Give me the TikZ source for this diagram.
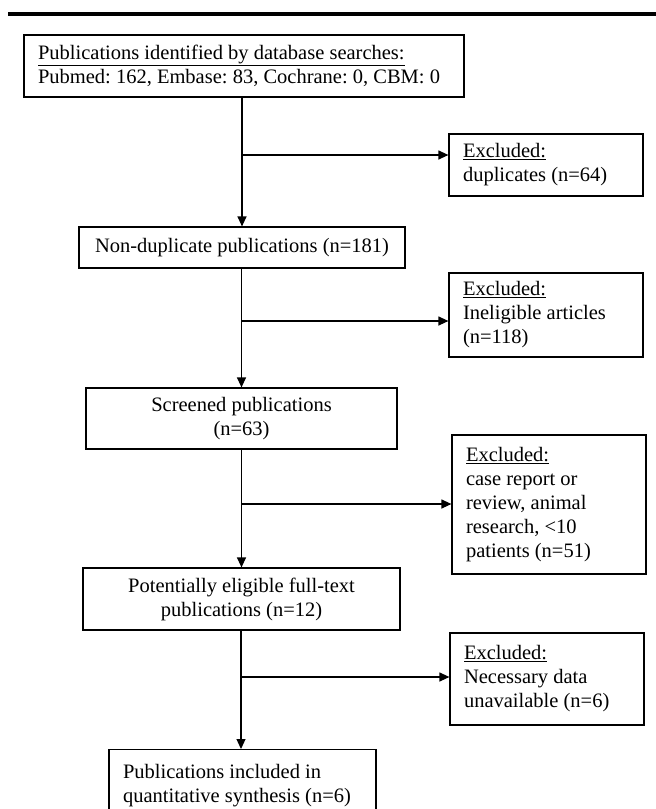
\documentclass[tikz,border=0pt]{standalone}
\usepackage{fontspec}
\setmainfont{Liberation Serif}
\usepackage{tikz}
\usetikzlibrary{arrows.meta}

\newcommand{\flowfont}{\fontsize{20.5}{24}\selectfont\frenchspacing}

\tikzset{
  flowbox/.style={draw, line width=1.2pt, inner xsep=14pt, inner ysep=0pt, font=\flowfont,
    execute at begin node={\spaceskip=0pt\xspaceskip=0pt}},
  exclbox/.style={flowbox, text width=166pt, align=left},
  flowarr/.style={-{Triangle[length=10pt,width=9pt]}, line width=1.2pt},
}

\begin{document}
\begin{tikzpicture}[x=1pt, y=-1pt]
\useasboundingbox (0,0) rectangle (656,809);
\clip (0,0) rectangle (656,809);

% Rule
\draw[line width=3.5pt] (8,14) -- (656,14);

% Main column
\node[flowbox, text width=412pt, align=left, minimum height=62pt] (search) at (244,66)
  {\underline{Publications identified by database searches:}\\
   Pubmed: 162, Embase: 83, Cochrane: 0, CBM: 0};
\node[flowbox, minimum width=326pt, minimum height=41pt] (nondup) at (242,247.5)
  {Non-duplicate publications (n=181)};
\node[flowbox, align=center, minimum width=311pt, minimum height=61pt] (screened) at (241.5,418.5)
  {Screened publications\\(n=63)};
\node[flowbox, align=center, minimum width=317pt, minimum height=62pt] (eligible) at (241.5,599)
  {Potentially eligible full-text\\publications (n=12)};
\node[flowbox, text width=239pt, align=left, minimum height=72pt, anchor=north] (included) at (242.5,749)
  {Publications included in\\quantitative synthesis (n=6)};

% Exclusions
\node[exclbox, minimum height=62pt] (dup) at (546,165)
  {\underline{Excluded:}\\duplicates (n=64)};
\node[exclbox, minimum height=84pt] (inelig) at (546,315)
  {\underline{Excluded:}\\Ineligible articles\\(n=118)};
\node[exclbox, minimum height=139pt] (casereport) at (549,504.5)
  {\underline{Excluded:}\\case report or\\review, animal\\research, <10\\patients (n=51)};
\node[exclbox, minimum height=92pt] (nodata) at (547,679)
  {\underline{Excluded:}\\Necessary data\\unavailable (n=6)};

% Junctions
\coordinate (j1) at (241,155);
\coordinate (j2) at (241,321);
\coordinate (j3) at (241,504);
\coordinate (j4) at (241,677);

% Arrows down
\draw[flowarr] (search.south -| nondup.north) -- (nondup.north);
\draw[flowarr] (nondup.south -| screened.north) -- (screened.north);
\draw[flowarr] (screened.south -| eligible.north) -- (eligible.north);
\draw[flowarr] (eligible.south -| j4) -- (included.north -| j4);

% Arrows right
\draw[flowarr] (j1) -- (j1 -| dup.west);
\draw[flowarr] (j2) -- (j2 -| inelig.west);
\draw[flowarr] (j3) -- (j3 -| casereport.west);
\draw[flowarr] (j4) -- (j4 -| nodata.west);
\end{tikzpicture}
\end{document}
